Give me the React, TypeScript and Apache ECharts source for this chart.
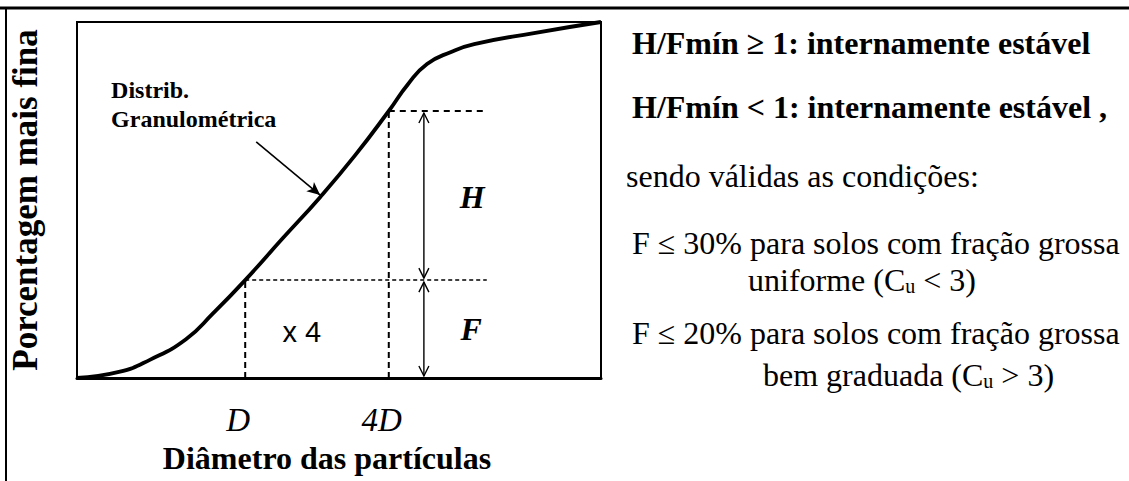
import React, { useEffect, useRef } from "react";
import * as echarts from "echarts";

// Grain-size distribution curve (percent finer vs. particle diameter, arbitrary 0-100 scales)
const curveX = [0, 8.0, 13.9, 20.8, 26.0, 32.1, 39.3, 46.4, 53.1, 59.5, 63.2, 66.8, 71.4, 75.8, 87.2, 100];
const curveY = [0, 1.7, 5.1, 10.9, 18.2, 27.5, 39.3, 50.8, 62.6, 75.0, 82.6, 88.2, 91.6, 93.8, 96.9, 100];

// Index of the D and 4D points on the curve
const dIndex = 5;
const fourDIndex = 9;

// Guide positions (axis units)
const arrowX = 66.2;
const guideEndX = 78.2;

// Tick-like labels under the axis
const tickLabels = ["D", "4D"];

// Annotation texts inside the plot
const annoTexts = ["x 4", "H", "F"];
const annoX = [42.9, 75.4, 75.2];
const annoY = [12.9, 50.8, 13.8];

const pointerStart = [34.2, 66.3];
const pointerEnd = [46.4, 51.4];

const SERIF = "'Liberation Serif', 'Times New Roman', serif";

export default function App() {
  const ref = useRef<HTMLDivElement>(null);

  useEffect(() => {
    if (!ref.current) return;
    const chart = echarts.init(ref.current, undefined, { renderer: "svg" });

    const dX = curveX[dIndex];
    const dY = curveY[dIndex];
    const fX = curveX[fourDIndex];
    const fY = curveY[fourDIndex];

    const dashed = (data: number[][], width = 2, dash = [6, 4]) => ({
      type: "line",
      data,
      symbol: "none",
      silent: true,
      lineStyle: { color: "#000", width, type: dash },
      z: 3,
    });

    const labelBase = {
      show: true,
      color: "#000",
      opacity: 1,
      textBorderWidth: 0,
    };

    const doubleArrow = (params: any, api: any) => {
      const x = api.value(0);
      const a = api.coord([x, api.value(1)]);
      const b = api.coord([x, api.value(2)]);
      const px = a[0];
      const top = a[1] + 2;
      const bot = b[1] - 2;
      const hw = 5;
      const hh = 10;
      const st = { stroke: "#000", lineWidth: 1.4, fill: "none" };
      return {
        type: "group",
        children: [
          { type: "line", shape: { x1: px, y1: top, x2: px, y2: bot }, style: st },
          {
            type: "polyline",
            shape: { points: [[px - hw, top + hh], [px, top], [px + hw, top + hh]] },
            style: st,
          },
          {
            type: "polyline",
            shape: { points: [[px - hw, bot - hh], [px, bot], [px + hw, bot - hh]] },
            style: st,
          },
        ],
      };
    };

    const option: any = {
      animation: false,
      backgroundColor: "#fff",
      grid: {
        left: 77,
        top: 22,
        right: 528,
        bottom: 103,
        show: true,
        borderColor: "#000",
        borderWidth: 2,
      },
      xAxis: {
        type: "value",
        min: 0,
        max: 100,
        name: "Diâmetro das partículas",
        nameLocation: "middle",
        nameGap: 64,
        nameTextStyle: {
          fontFamily: SERIF,
          fontWeight: "bold",
          fontSize: 32,
          color: "#000",
          padding: [0, 24, 0, 0],
        },
        axisLine: { show: true, lineStyle: { color: "#000", width: 3 } },
        axisTick: { show: false },
        axisLabel: { show: false },
        splitLine: { show: false },
      },
      yAxis: {
        type: "value",
        min: 0,
        max: 100,
        name: "Porcentagem mais fina",
        nameLocation: "middle",
        nameRotate: 90,
        nameGap: 34,
        nameTextStyle: {
          fontFamily: SERIF,
          fontWeight: "bold",
          fontSize: 35,
          color: "#000",
        },
        axisLine: { show: true, lineStyle: { color: "#000", width: 2 } },
        axisTick: { show: false },
        axisLabel: { show: false },
        splitLine: { show: false },
      },
      series: [
        {
          type: "line",
          data: curveX.map((x, i) => [x, curveY[i]]),
          smooth: 0.5,
          symbol: "none",
          lineStyle: { color: "#000", width: 3.8 },
          z: 5,
        },
        dashed([[dX, 0], [dX, dY]], 2, [6, 4]),
        dashed([[fX, 0], [fX, fY]], 2, [6, 4]),
        dashed([[dX, dY], [guideEndX, dY]], 1.5, [4, 3]),
        dashed([[fX, fY], [guideEndX, fY]], 2, [6, 5]),
        {
          type: "custom",
          silent: true,
          renderItem: doubleArrow,
          data: [
            [arrowX, fY, dY],
            [arrowX, dY, 0],
          ],
          z: 4,
        },
        {
          type: "line",
          data: [],
          markLine: {
            silent: true,
            animation: false,
            label: { show: false },
            lineStyle: { color: "#000", width: 1.6, type: "solid" },
            symbol: ["none", "arrow"],
            symbolSize: [9, 13],
            data: [[{ coord: pointerStart }, { coord: pointerEnd }]],
          },
        },
        {
          type: "scatter",
          symbolSize: 0,
          silent: true,
          itemStyle: { opacity: 1 },
          data: [
            { value: [dX, 0], label: { formatter: tickLabels[0] } },
            { value: [fX, 0], label: { formatter: tickLabels[1] } },
          ],
          label: {
            ...labelBase,
            position: "inside",
            offset: [-7, 42],
            fontFamily: SERIF,
            fontStyle: "italic",
            fontSize: 33,
          },
        },
        {
          type: "scatter",
          symbolSize: 0,
          silent: true,
          itemStyle: { opacity: 1 },
          data: annoTexts.map((t, i) => ({
            value: [annoX[i], annoY[i]],
            label:
              i === 0
                ? {
                    formatter: t,
                    fontFamily: "'Liberation Sans', Arial, sans-serif",
                    fontStyle: "normal",
                    fontWeight: "normal",
                    fontSize: 29,
                    color: "#000",
                  }
                : { formatter: t, color: "#000" },
          })),
          label: {
            ...labelBase,
            position: "inside",
            fontFamily: SERIF,
            fontStyle: "italic",
            fontWeight: "bold",
            fontSize: 32,
          },
        },
        {
          type: "scatter",
          symbolSize: 0,
          silent: true,
          itemStyle: { opacity: 1 },
          data: [{ value: [6.5, 85.1] }],
          label: {
            ...labelBase,
            position: [0, 0],
            align: "left",
            verticalAlign: "top",
            formatter: "Distrib.\nGranulométrica",
            fontFamily: SERIF,
            fontWeight: "bold",
            fontSize: 24,
            lineHeight: 29,
          },
        },
      ],
      graphic: [
        {
          type: "line",
          shape: { x1: 0, y1: 8, x2: 1129, y2: 8 },
          style: { stroke: "#000", lineWidth: 3 },
          silent: true,
        },
        {
          type: "line",
          shape: { x1: 6, y1: 8, x2: 6, y2: 481 },
          style: { stroke: "#000", lineWidth: 2 },
          silent: true,
        },
        {
          type: "text",
          x: 632,
          y: 43,
          silent: true,
          style: {
            text: "H/Fmín ≥ 1: internamente estável",
            fontFamily: SERIF,
            fontWeight: "bold",
            fontSize: 32,
            fill: "#000",
            align: "left",
            verticalAlign: "middle",
          },
        },
        {
          type: "text",
          x: 632,
          y: 107,
          silent: true,
          style: {
            text: "H/Fmín < 1: internamente estável ,",
            fontFamily: SERIF,
            fontWeight: "bold",
            fontSize: 32,
            fill: "#000",
            align: "left",
            verticalAlign: "middle",
          },
        },
        {
          type: "text",
          x: 626,
          y: 176,
          silent: true,
          style: {
            text: "sendo válidas as condições:",
            fontFamily: SERIF,
            fontSize: 32,
            fill: "#000",
            align: "left",
            verticalAlign: "middle",
          },
        },
        {
          type: "text",
          x: 632,
          y: 243,
          silent: true,
          style: {
            text: "F ≤ 30% para solos com fração grossa",
            fontFamily: SERIF,
            fontSize: 32,
            fill: "#000",
            align: "left",
            verticalAlign: "middle",
          },
        },
        {
          type: "text",
          x: 748,
          y: 280,
          silent: true,
          style: {
            text: "{n|uniforme (C}{s|u}{n| < 3)}",
            align: "left",
            verticalAlign: "middle",
            rich: {
              n: { fontFamily: SERIF, fontSize: 32, fill: "#000" },
              s: { fontFamily: SERIF, fontSize: 20, fill: "#000", verticalAlign: "bottom" },
            },
          },
        },
        {
          type: "text",
          x: 632,
          y: 333,
          silent: true,
          style: {
            text: "F ≤ 20% para solos com fração grossa",
            fontFamily: SERIF,
            fontSize: 32,
            fill: "#000",
            align: "left",
            verticalAlign: "middle",
          },
        },
        {
          type: "text",
          x: 763,
          y: 375,
          silent: true,
          style: {
            text: "{n|bem graduada (C}{s|u}{n| > 3)}",
            align: "left",
            verticalAlign: "middle",
            rich: {
              n: { fontFamily: SERIF, fontSize: 32, fill: "#000" },
              s: { fontFamily: SERIF, fontSize: 20, fill: "#000", verticalAlign: "bottom" },
            },
          },
        },
      ],
    };

    chart.setOption(option);
    return () => chart.dispose();
  }, []);

  return (
    <div
      ref={ref}
      style={{
        position: "fixed",
        left: 0,
        top: 0,
        width: 1129,
        height: 481,
        background: "#fff",
      }}
    />
  );
}
